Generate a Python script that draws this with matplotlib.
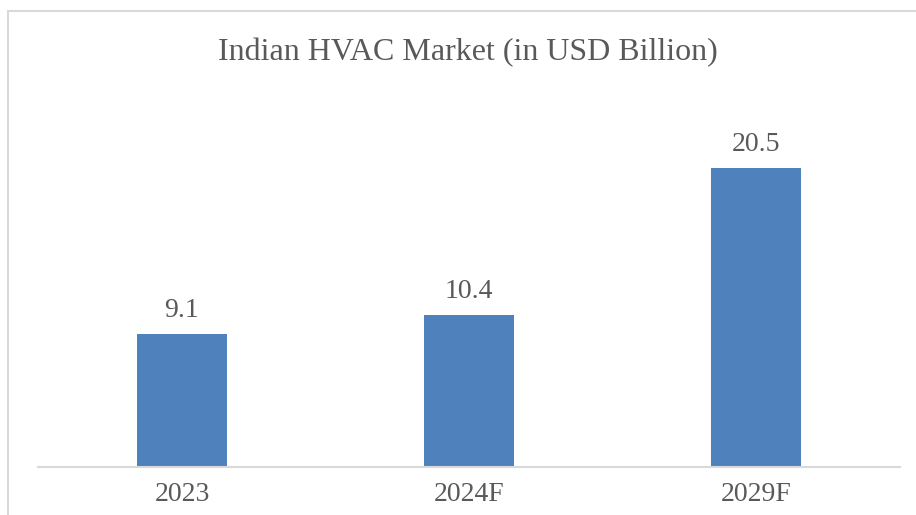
import matplotlib.pyplot as plt
from matplotlib.patches import Rectangle

years = ['2023', '2024F', '2029F']
market_size = [9.1, 10.4, 20.5]

BAR_COLOR = '#4F81BD'
TEXT_COLOR = '#595959'
FONT = ['Liberation Serif', 'DejaVu Serif']

fig = plt.figure(figsize=(9.16, 5.15), dpi=100)
ax = fig.add_axes([0.042, 0.0932, 0.940, 0.7087])

x = range(len(years))
bars = ax.bar(x, market_size, width=0.314, color=BAR_COLOR)
ax.set_xlim(-0.5, len(years) - 0.5)
ax.set_ylim(0, 25)

# value labels above bars
for rect, val in zip(bars, market_size):
    ax.annotate(f"{val}", (rect.get_x() + rect.get_width() / 2, rect.get_height()),
                xytext=(0, 17), textcoords='offset points', ha='center', va='center',
                fontsize=20, color=TEXT_COLOR, family=FONT)

ax.set_xticks(list(x))
ax.set_xticklabels(years, fontsize=20, color=TEXT_COLOR, family=FONT)
ax.tick_params(axis='x', length=0, pad=11)
ax.set_yticks([])
for side in ['top', 'right', 'left']:
    ax.spines[side].set_visible(False)
ax.spines['bottom'].set_color('#d9d9d9')
ax.spines['bottom'].set_linewidth(1.5)

fig.text(0.511, 0.897, "Indian HVAC Market (in USD Billion)", ha='center', va='center',
         fontsize=23, color=TEXT_COLOR, family=FONT)

# outer chart border (cropped at right and bottom)
fig.patches.append(Rectangle((8 / 916, -0.1), 1.1, 1.1 - 11 / 515, transform=fig.transFigure,
                             fill=False, edgecolor='#d9d9d9', linewidth=1.5))

fig.savefig('out.png', dpi=100)
